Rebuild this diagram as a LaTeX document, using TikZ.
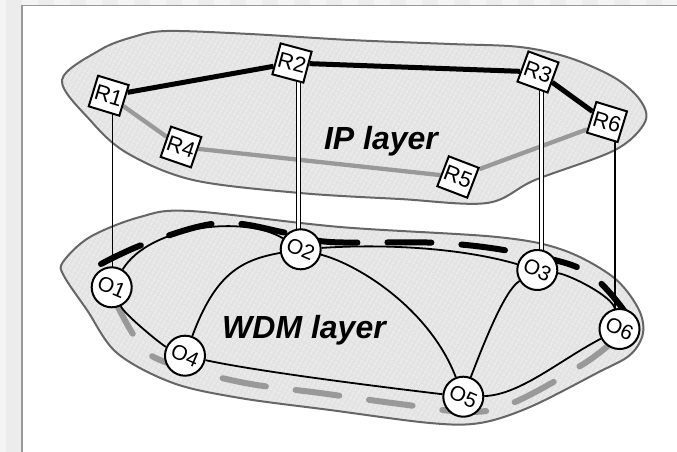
\documentclass[tikz,border=0pt]{standalone}
\usepackage{fontspec}
\setmainfont{Liberation Sans}
\usetikzlibrary{patterns.meta,calc}
\definecolor{blobfill}{HTML}{E3E3E3}
\definecolor{blobline}{HTML}{666666}
\definecolor{stripe}{HTML}{EFEFEF}
\definecolor{lgray}{HTML}{999999}
\definecolor{bgA}{HTML}{F4F4F4}
\definecolor{bgB}{HTML}{ECECEC}
\definecolor{frameg}{HTML}{999999}
\pgfdeclarelayer{bg}
\pgfsetlayers{bg,main}
\begin{document}
\begin{tikzpicture}[x=1pt,y=-1pt,
  blob/.style={draw=blobline,line width=2pt,preaction={fill=blobfill},
    pattern={Lines[angle=60,distance=4pt,line width=1.2pt]},pattern color=stripe},
  router/.style={draw,line width=2pt,fill=white,minimum size=32pt,inner sep=0pt,
    font=\fontsize{22}{22}\selectfont},
  oxc/.style={draw,circle,line width=2pt,fill=white,minimum size=40pt,inner sep=0pt,
    font=\fontsize{21}{21}\selectfont},
  iplink/.style={line width=5pt},
  iplinkg/.style={line width=4.3pt,draw=lgray},
  wlink/.style={line width=1.8pt},
  vline/.style={line width=1.5pt},
  vdouble/.style={double=white,double distance=2.7pt,line width=1.3pt},
  bdash/.style={line width=6pt,line cap=round,dash pattern=on 44pt off 30pt},
  gdash/.style={bdash,draw=lgray},
  layerlbl/.style={font=\fontsize{32}{32}\selectfont\bfseries\itshape}
]
\useasboundingbox (0,0) rectangle (677,452);
\begin{pgfonlayer}{bg}
% background
\fill[bgA] (0,0) rectangle (677,452);
\fill[bgB] (6,0) rectangle (22,452);
\foreach \k in {0,...,20} \fill[bgB] ({6+32*\k},0) rectangle ({22+32*\k},6);
\fill[white] (22,6) rectangle (677,452);
\draw[frameg,line width=1.5pt] (21.75,452) -- (21.75,5.75) -- (677,5.75);
% layers
\draw[blob] plot[smooth cycle,tension=0.55] coordinates {(62,80) (100,50) (133,37) (167,31) (250,34) (350,40) (450,44) (520,47) (570,58) (615,78) (640,100) (645,122) (615,150) (535,180) (487,203) (400,199) (300,193) (193,180) (127,153) (90,120)};
\draw[blob] plot[smooth cycle,tension=0.55] coordinates {(63,262) (90,237) (140,217) (190,211) (340,227) (497,237) (563,250) (613,277) (638,308) (643,333) (630,355) (597,373) (530,407) (480,423) (430,423) (330,410) (240,398) (173,383) (117,353) (87,310) (64,276)};
\end{pgfonlayer}

% nodes
\node[router,rotate=-17] (R1) at (108.7,95.7) {R1};
\node[router,rotate=-15] (R2) at (292,63) {R2};
\node[router,rotate=-20] (R3) at (538,72) {R3};
\node[router,rotate=-17] (R6) at (607,122) {R6};
\node[router,rotate=-19] (R4) at (181,147) {R4};
\node[router,rotate=-21] (R5) at (458,177) {R5};

\node[oxc,rotate=-23] (O1) at (111.7,287.3) {O1};
\node[oxc,rotate=-23] (O2) at (300.7,249.3) {O2};
\node[oxc,rotate=-25] (O3) at (537.3,270) {O3};
\node[oxc,rotate=-23] (O4) at (185,355.7) {O4};
\node[oxc,rotate=-23] (O5) at (463.3,396.7) {O5};
\node[oxc,rotate=-24] (O6) at (619.5,329) {O6};

\begin{pgfonlayer}{bg}
% dashed lightpaths
\draw[bdash] plot[smooth,tension=0.6] coordinates {(101,264) (147,243) (220,223) (287,233) (330,242) (440,243) (520,253) (587,272) (628,316)};
\draw[gdash] plot[smooth,tension=0.6] coordinates {(112,295) (135,337) (160,360) (240,382) (320,393) (400,404) (470,412) (515,402) (585,363) (619,336)};

% WDM links
\draw[wlink] (O1) .. controls (150,225) and (245,215) .. (O2);
\draw[wlink] (O2) .. controls (380,244) and (458,247) .. (O3);
\draw[wlink] (O3) .. controls (570,275) and (612,296) .. (O6);
\draw[wlink] (O1) .. controls (125,315) and (162,345) .. (O4);
\draw[wlink] (O4) .. controls (260,372) and (390,388) .. (O5);
\draw[wlink] (O2) .. controls (240,260) and (215,275) .. (O4);
\draw[wlink] (O2) .. controls (360,265) and (430,310) .. (O5);
\draw[wlink] (O3) .. controls (505,290) and (485,340) .. (O5);
\draw[wlink] (O5) .. controls (520,395) and (560,360) .. (O6);

% IP links
\draw[iplink] (R1) -- (R2);
\draw[iplink] (R2) -- (R3);
\draw[iplink] (R3) -- (R6);
\draw[iplinkg] (R1) -- (R4);
\draw[iplinkg] (R4) -- (R5);
\draw[iplinkg] (R5) -- (R6);

% vertical links
\draw[vline] ([xshift=1pt]O1.center |- R1.center) -- ([xshift=1pt]O1.center);
\draw[vdouble] ([xshift=-2pt]O2.center |- R2.center) -- ([xshift=-2pt]O2.center);
\draw[vdouble] ([xshift=4pt]O3.center |- R3.center) -- ([xshift=4pt]O3.center);
\draw[vline] ([xshift=-4.5pt]O6.center |- R6.center) -- ([xshift=-4.5pt]O6.center);
\end{pgfonlayer}

% labels
\node[layerlbl] (iplbl) at (381,141) {IP layer};
\node[layerlbl] (wdmlbl) at (304,330) {WDM layer};
\end{tikzpicture}
\end{document}
